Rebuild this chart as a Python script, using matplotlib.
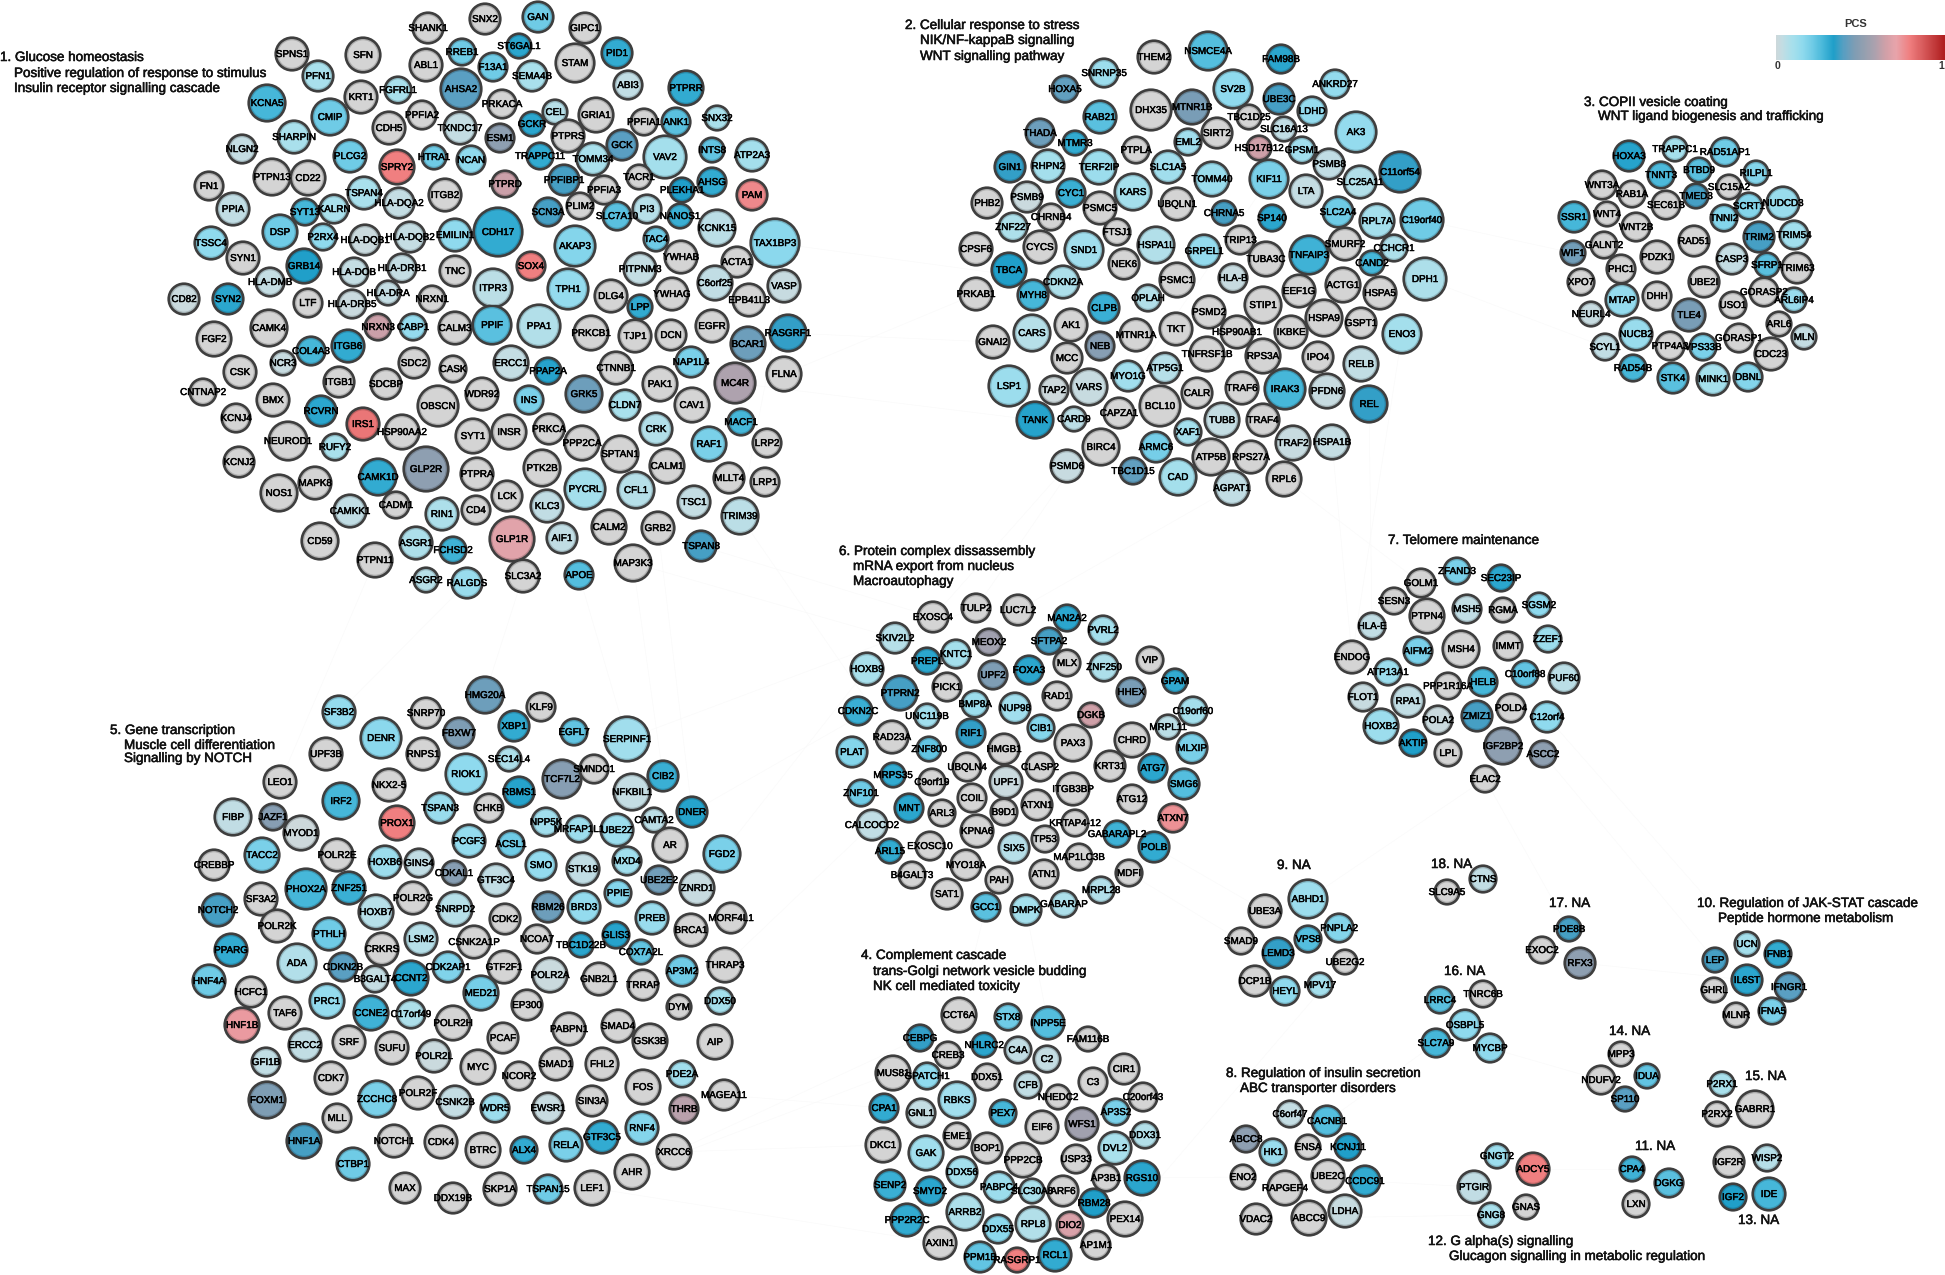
import numpy as np
import matplotlib
matplotlib.use("Agg")
import matplotlib.pyplot as plt
from matplotlib.colors import LinearSegmentedColormap, to_rgb
from matplotlib.patches import Circle
import matplotlib.patheffects as pe

plt.rcParams['font.family'] = ['Liberation Sans', 'DejaVu Sans']

# nodes of each module: gene, x, y, radius, PCS (pixels of the 1945x1275 image)
cluster1 = [
    ("SHANK1",428,28,16,0),("SNX2",485,19,16,0),("SPNS1",292,54,17,0),("SFN",363,55,18,0),("RREB1",462,52,14,.24),
    ("ABL1",426,65,17,0),("PFN1",318,76,16,.12),("F13A1",493,67,15,.24),("AHSA2",461,89,21,.42),("FGFRL1",398,90,14,.12),
    ("KRT1",361,97,17,0),("KCNA5",267,103,19,.30),("PPFIA2",422,115,15,0),("CMIP",330,117,19,.24),("CDH5",389,128,17,0),
    ("TXNDC17",460,128,17,.06),("SHARPIN",294,137,17,.12),("NLGN2",242,149,15,.06),("PLCG2",350,156,17,.24),("HTRA1",434,157,13,.24),
    ("NCAN",471,160,15,.18),("SPRY2",397,167,18,.80),("PTPN13",272,177,19,0),("CD22",308,178,18,0),("FN1",209,186,15,0),
    ("TSPAN4",364,193,17,.12),("ITGB2",445,195,17,0),("HLA-DQA2",399,203,16,.06),("SYT13",305,212,14,.30),("KALRN",334,209,15,.12),
    ("PPIA",233,209,17,.07),("DSP",280,232,18,.24),("EMILIN1",455,235,17,.18),("P2RX4",323,237,14,.18),("HLA-DQB1",365,240,16,.04),
    ("HLA-DQB2",410,237,16,.06),("TSSC4",211,243,17,.18),("SYN1",243,258,17,0),("GRB14",304,266,18,.36),("HLA-DRB1",402,268,15,.06),
    ("HLA-DOB",354,272,15,.06),("TNC",455,271,16,0),("HLA-DMB",270,282,15,.06),("CD82",184,299,16,.04),("SYN2",228,299,16,.34),
    ("LTF",308,303,15,0),("HLA-DRB5",352,304,15,.04),("HLA-DRA",388,293,13,.06),("NRXN1",432,299,14,0),
    ("GAN",538,17,16,.24),("GIPC1",585,28,16,0),("ST6GAL1",519,46,13,.34),("PID1",617,53,16,.33),("STAM",575,63,20,0),
    ("SEMA4B",532,76,16,.12),("ABI3",628,85,15,.07),("PTPRR",686,88,18,.33),("PRKACA",502,104,15,0),("CEL",555,112,13,.09),
    ("GRIA1",596,115,18,0),("SNX32",717,118,13,.12),("PPFIA1",644,122,14,0),("ANK1",676,122,15,.27),("GCKR",532,124,13,.34),
    ("ESM1",500,138,15,.52),("PTPRS",568,136,17,0),("GCK",622,145,16,.42),("INTS8",712,150,13,.26),("ATP2A3",752,155,17,.13),
    ("TRAPPC11",540,156,14,.33),("VAV2",665,157,22,.13),("TOMM34",593,159,17,.12),("PTPRD",505,184,14,.65),("TACR1",639,177,13,0),
    ("PPFIBP1",564,180,16,.40),("AHSG",712,182,15,.33),("PLEKHA1",682,190,13,.36),("PPFIA3",604,190,15,0),("PAM",752,195,16,.78),
    ("SCN3A",548,212,15,.40),("PLIM2",580,206,14,0),("SLC7A10",617,216,15,.27),("PI3",647,209,15,.09),("NANOS1",680,216,13,.32),
    ("CDH17",498,232,25,.33),("KCNK15",717,228,19,.08),("TAX1BP3",775,243,25,.19),("TAC4",656,239,13,.24),("AKAP3",575,246,21,.20),
    ("SOX4",531,266,15,.80),("YWHAB",681,257,17,0),("ACTA1",737,262,16,0),("PITPNM3",640,269,17,.06),("ITPR3",493,288,20,.08),
    ("TPH1",568,289,21,.17),("C6orf25",715,283,18,.07),("VASP",784,286,17,.05),("DLG4",611,296,17,0),("YWHAG",672,294,17,0),
    ("EPB41L3",749,300,17,0),("LPP",640,307,13,.33),
    ("CAMK4",269,328,19,0),("NRXN3",378,327,14,.65),("CABP1",413,327,14,.17),("CALM3",455,328,17,0),("PPIF",492,325,20,.27),
    ("FGF2",214,339,18,0),("COL4A3",311,351,15,.30),("ITGB6",348,346,17,.33),("SDC2",414,363,16,0),("NCR3",283,363,13,.05),
    ("CSK",240,372,17,0),("CASK",453,369,14,0),("CNTNAP2",203,392,14,0),("ITGB1",339,382,16,0),("SDCBP",386,384,16,0),
    ("WDR92",482,394,17,0),("BMX",273,400,17,0),("OBSCN",438,406,21,0),("RCVRN",321,411,16,.34),("KCNJ4",236,418,15,0),
    ("IRS1",363,424,17,.82),("HSP90AA2",402,432,18,0),("SYT1",473,436,18,0),("NEUROD1",288,441,20,0),("RUFY2",335,447,14,.12),
    ("KCNJ2",239,462,16,0),("GLP2R",426,469,23,.52),("CAMK1D",378,477,19,.33),("PTPRA",477,474,17,0),("MAPK8",315,483,17,0),
    ("NOS1",279,493,19,0),("CADM1",396,505,14,0),("CAMKK1",350,511,17,.07),("RIN1",442,514,17,.11),("CD4",476,510,15,0),
    ("CD59",320,541,19,0),("ASGR1",416,543,17,.11),("PTPN11",375,560,18,0),("FCHSD2",453,550,14,.31),("ASGR2",426,580,13,.09),
    ("RALGDS",467,583,16,.16),
    ("PPA1",539,326,22,.10),("PRKCB1",591,333,18,0),("TJP1",635,336,17,0),("DCN",671,335,16,0),("EGFR",712,326,17,0),
    ("RASGRF1",788,333,19,.38),("BCAR1",748,344,18,.45),("ERCC1",511,363,18,.06),("PPAP2A",548,371,14,.35),("CTNNB1",616,368,17,0),
    ("NAP1L4",691,362,16,.22),("FLNA",784,374,18,0),("MC4R",735,383,21,.60),("PAK1",660,384,18,0),("GRK5",584,394,19,.45),
    ("CLDN7",625,405,16,.12),("INS",529,400,15,.22),("CAV1",692,405,18,0),("MACF1",741,422,14,.30),("CRK",656,429,17,.10),
    ("INSR",509,432,18,0),("PRKCA",549,429,16,0),("PPP2CA",582,443,18,0),("LRP2",767,443,15,0),("RAF1",709,444,18,.22),
    ("SPTAN1",620,454,19,0),("CALM1",667,466,18,0),("PTK2B",542,468,19,0),("MLLT4",729,478,16,0),("LRP1",765,482,15,0),
    ("PYCRL",585,489,21,.13),("CFL1",636,490,19,.09),("LCK",507,496,16,0),("TSC1",694,502,17,.06),("KLC3",547,506,17,.07),
    ("TRIM39",740,516,19,.08),("CALM2",609,527,18,0),("GRB2",658,528,17,0),("GLP1R",512,539,23,.70),("AIF1",562,538,16,.07),
    ("TSPAN8",701,546,16,.40),("MAP3K3",633,563,19,0),("APOE",579,575,15,.28),("SLC3A2",523,576,17,0),
]
cluster2 = [
    ("THEM2",1154,57,17,0),("NSMCE4A",1208,51,20,.28),("FAM98B",1281,59,15,.34),("SNRNP35",1104,73,15,.15),("HOXA5",1065,89,14,.43),
    ("SV2B",1233,89,20,.18),("ANKRD27",1335,84,15,.17),("UBE3C",1279,99,16,.40),("DHX35",1151,110,21,0),("MTNR1B",1192,107,18,.47),
    ("RAB21",1100,117,17,.27),("LDHD",1312,111,15,.17),("TBC1D25",1249,117,13,0),("SLC16A13",1284,129,13,.07),("AK3",1356,132,21,.17),
    ("THADA",1040,133,15,.45),("SIRT2",1217,133,16,0),("MTMR3",1075,143,13,.33),("EML2",1188,142,14,.14),("HSD17B12",1259,148,13,.66),
    ("PTPLA",1136,150,14,0),("GPSM1",1302,150,14,.14),("GIN1",1010,167,16,.38),("RHPN2",1048,166,17,.13),("TERF2IP",1099,167,18,.15),
    ("SLC1A5",1168,167,17,.14),("PSMB8",1329,164,16,.07),("C11orf54",1400,172,21,.38),("KIF11",1269,179,20,.22),("TOMM40",1212,179,18,.16),
    ("SLC25A11",1360,182,17,.10),("LTA",1306,191,17,.06),("KARS",1133,192,19,.13),("PSMB9",1027,197,16,.04),("CYC1",1071,193,15,.32),
    ("UBQLN1",1177,204,17,0),("PSMC5",1100,208,17,0),("CHRNA5",1224,213,13,.40),("SP140",1272,218,14,.34),("SLC2A4",1338,212,16,.24),
    ("RPL7A",1377,221,18,.13),("C19orf40",1422,220,22,.24),("PHB2",987,203,16,0),("CHRNB4",1051,217,14,0),("ZNF227",1013,227,15,.11),
    ("FTSJ1",1117,232,14,0),("TRIP13",1240,240,15,0),("SMURF2",1345,244,17,0),("CCHCR1",1394,248,14,.11),("HSPA1L",1156,245,19,.10),
    ("CYCS",1040,247,17,0),("SND1",1084,250,20,.14),("GRPEL1",1204,251,17,.17),("TUBA3C",1266,259,18,0),("TNFAIP3",1309,255,20,.31),
    ("CPSF6",976,249,17,0),("NEK6",1124,264,16,0),("CAND2",1372,263,13,.30),("TBCA",1009,270,18,.36),("DPH1",1425,279,22,.11),
    ("HLA-B",1233,278,15,.05),("PSMC1",1177,280,18,0),("CDKN2A",1063,282,17,.11),("ACTG1",1343,285,18,0),("HSPA5",1380,293,17,0),
    ("EEF1G",1299,291,17,0),("MYH8",1033,295,16,.30),("PRKAB1",976,294,17,0),("OPLAH",1148,298,14,.10),("STIP1",1263,305,19,0),
    ("CLPB",1104,308,16,.32),("PSMD2",1209,312,17,0),("GNAI2",993,342,17,0),("HSPA9",1324,318,19,0),("GSPT1",1361,323,16,0),
    ("ENO3",1402,334,20,.13),("AK1",1071,325,17,0),("TKT",1176,329,17,0),("CARS",1032,333,19,.09),("HSP90AB1",1237,332,17,0),
    ("IKBKE",1291,332,17,0),("MTNR1A",1136,335,17,0),("NEB",1100,346,15,.50),("TNFRSF1B",1207,354,18,0),("RPS3A",1263,356,18,0),
    ("MCC",1067,358,16,0),("IPO4",1318,357,16,0),("RELB",1361,364,18,.07),("ATP5G1",1165,368,16,.09),("MYO1G",1128,376,16,.14),
    ("LSP1",1009,386,21,.15),("VARS",1089,387,19,.05),("TRAF6",1242,388,17,0),("IRAK3",1285,389,21,.30),("PFDN6",1327,391,18,.05),
    ("CALR",1197,393,16,0),("TAP2",1054,390,15,.03),("REL",1369,404,19,.38),("BCL10",1160,406,21,0),("TANK",1035,420,19,.35),
    ("CARD9",1074,419,13,.08),("CAPZA1",1119,413,16,0),("TUBB",1222,420,18,.06),("TRAF4",1263,420,17,0),("XAF1",1188,432,14,.13),
    ("HSPA1B",1332,442,18,.06),("TRAF2",1293,443,18,.05),("BIRC4",1101,447,19,0),("ARMC6",1156,447,16,.23),("ATP5B",1211,457,19,0),
    ("RPS27A",1251,457,17,0),("PSMD6",1067,466,17,.05),("TBC1D15",1133,471,14,.43),("CAD",1178,477,19,.13),("RPL6",1284,479,18,0),
    ("AGPAT1",1232,488,18,.07),
]
cluster3 = [
    ("TRAPPC1",1675,149,13,.13),("RAD51AP1",1725,152,15,.24),("HOXA3",1629,156,16,.35),("BTBD9",1699,170,13,.27),("RILPL1",1756,173,13,.20),
    ("TNNT3",1661,175,14,.29),("SLC15A2",1729,187,13,0),("WNT3A",1602,185,15,0),("RAB1A",1632,194,14,0),("TMED3",1696,196,13,.40),
    ("NUDCD3",1783,203,17,.16),("SEC61B",1666,205,15,0),("SCRT1",1749,206,14,.20),("WNT4",1607,214,13,0),("TNNI2",1724,218,14,.20),
    ("SSR1",1574,217,16,.30),("WNT2B",1636,227,15,0),("TRIM54",1794,235,15,.14),("TRIM2",1759,237,16,.40),("RAD51",1694,241,16,0),
    ("GALNT2",1604,245,14,0),("WIF1",1573,253,13,.46),("PDZK1",1657,257,17,0),("CASP3",1732,259,16,.06),("SFRP1",1767,265,13,.27),
    ("TRIM63",1797,268,16,0),("PHC1",1621,269,15,0),("XPO7",1581,282,14,0),("UBE2I",1704,282,16,0),("GORASP2",1764,292,15,0),
    ("DHH",1657,296,15,0),("MTAP",1622,300,17,.17),("ARL6IP4",1794,300,13,.16),("USO1",1733,305,14,0),("NEURL4",1591,314,13,.05),
    ("TLE4",1689,315,17,.47),("ARL6",1779,324,13,0),("NUCB2",1636,334,17,.16),("MLN",1804,337,13,.06),("GORASP1",1739,338,15,0),
    ("PTP4A3",1670,346,15,0),("VPS33B",1703,347,14,.22),("SCYL1",1605,347,14,.07),("CDC23",1771,354,17,0),("RAD54B",1633,368,14,.30),
    ("STK4",1673,378,16,.27),("MINK1",1713,379,17,.13),("DBNL",1748,377,15,.20),
]
cluster4 = [
    ("CCT6A",959,1015,18,0),("STX8",1008,1017,14,.24),("INPP5E",1048,1023,17,.28),("CEBPG",920,1038,14,.38),("FAM116B",1088,1039,13,0),
    ("NHLRC2",984,1045,13,.34),("C4A",1018,1050,14,.07),("CREB3",948,1055,14,0),("C2",1047,1059,14,.06),("CIR1",1124,1069,16,0),
    ("MUS81",893,1073,18,0),("GPATCH1",927,1076,14,.18),("DDX51",987,1077,14,0),("CFB",1028,1085,14,.07),("C3",1093,1082,15,0),
    ("NHEDC2",1058,1097,13,0),("C20orf43",1143,1097,15,0),("RBKS",957,1100,19,.14),("CPA1",884,1108,15,.33),("PEX7",1003,1113,14,.30),
    ("GNL1",921,1113,15,.06),("AP3S2",1116,1112,14,.22),("WFS1",1082,1124,17,.57),("EIF6",1042,1127,17,0),("DDX31",1145,1135,14,.10),
    ("EME1",957,1136,14,0),("DKC1",883,1145,18,0),("BOP1",987,1148,16,0),("DVL2",1115,1148,17,.12),("GAK",926,1153,18,.14),
    ("PPP2CB",1023,1160,18,0),("USP33",1076,1159,15,0),("DDX56",962,1172,16,.13),("AP3B1",1106,1178,14,0),("RGS10",1142,1178,18,.34),
    ("SENP2",890,1185,16,.32),("PABPC4",999,1187,16,.15),("SMYD2",930,1191,15,.34),("SLC30A8",1032,1191,13,.12),("ARF6",1063,1191,16,0),
    ("RBM28",1094,1203,15,.36),("ARRB2",965,1212,19,.11),("PEX14",1125,1219,18,0),("PPP2R2C",907,1220,17,.33),("RPL8",1033,1224,18,.10),
    ("DIO2",1070,1225,14,.68),("DDX55",998,1229,15,.19),("AXIN1",940,1243,17,0),("AP1M1",1096,1245,15,0),("PPM1B",980,1257,16,.26),
    ("RCL1",1055,1255,17,.33),("RASGRP1",1017,1260,13,.80),
]
cluster5 = [
    ("HMG20A",485,695,19,.45),("KLF9",541,707,15,0),("SF3B2",339,712,17,.17),("SNRP70",426,713,16,0),("XBP1",514,726,16,.33),
    ("FBXW7",459,733,16,.48),("DENR",381,738,21,.19),("RNPS1",423,754,17,0),("UPF3B",326,754,17,0),("SEC14L4",509,759,13,.11),
    ("RIOK1",466,774,21,.18),("LEO1",280,782,17,0),("NKX2-5",389,785,17,0),("RBMS1",519,792,16,.35),("TCF7L2",562,779,20,.50),
    ("IRF2",341,801,19,.30),("CHKB",489,808,15,0),("TSPAN3",440,808,16,.16),("JAZF1",273,817,14,.50),("FIBP",233,817,19,.07),
    ("PROX1",397,823,18,.80),("NPP5K",546,822,15,.14),("MYOD1",301,833,18,.03),("PCGF3",469,841,17,.17),("ACSL1",511,844,14,.24),
    ("TACC2",262,855,18,.22),("POLR2E",337,855,17,0),("HOXB6",385,862,17,.15),("GINS4",419,863,15,.07),("CREBBP",214,865,16,0),
    ("SMO",541,865,16,.17),("CDKAL1",454,873,13,.50),("GTF3C4",496,880,17,.07),("PHOX2A",306,889,21,.30),("ZNF251",349,888,17,.32),
    ("SF3A2",261,899,17,0),("POLR2G",413,898,17,0),("HOXB7",376,912,18,.09),("SNRPD2",455,909,18,.09),("RBM26",548,907,16,.45),
    ("CDK2",505,919,16,0),("NOTCH2",218,910,17,.40),("POLR2K",277,926,17,0),("LSM2",421,939,17,.09),("PTHLH",329,934,17,.24),
    ("NCOA7",537,939,15,0),("CSNK2A1P",474,942,17,0),("CRKRS",382,949,17,0),("PPARG",231,950,17,.33),("ADA",297,963,20,.10),
    ("CDKN2B",343,967,15,.42),("CDK2AP1",448,967,16,.21),("GTF2F1",504,967,17,0),("POLR2A",550,975,18,.04),("HNF4A",209,981,17,.24),
    ("HCFC1",251,992,16,0),("MED21",481,993,18,.23),("PRC1",327,1001,18,.17),("EP300",527,1005,16,0),("TAF6",285,1013,17,0),
    ("CCNE2",371,1013,18,.31),("C17orf49",411,1014,15,.11),("POLR2H",453,1023,18,0),("HNF1B",242,1025,18,.74),("PCAF",503,1038,16,0),
    ("SRF",349,1042,17,0),("ERCC2",305,1045,17,.07),("SUFU",392,1048,17,0),("POLR2L",434,1056,17,.04),("GFI1B",266,1062,15,.07),
    ("SMAD1",556,1064,17,0),("MYC",478,1067,18,0),("CDK7",331,1078,17,0),("NCOR2",519,1076,15,0),("ZCCHC8",377,1099,19,.22),
    ("POLR2F",418,1093,17,0),("CSNK2B",455,1102,17,.06),("WDR5",495,1108,15,.15),("FOXM1",267,1100,19,.48),("MLL",337,1118,15,0),
    ("HNF1A",304,1141,18,.40),("CDK4",441,1142,17,0),("NOTCH1",394,1141,17,0),("BTRC",483,1150,18,0),("ALX4",524,1150,14,.33),
    ("CTBP1",353,1164,17,.24),("MAX",405,1188,16,0),("SKP1A",500,1189,17,0),("DDX19B",453,1198,16,0),("CCNT2",411,978,18,.34),
    ("B3GALT4",375,979,14,.06),("EGFL7",574,732,14,.26),("SERPINF1",627,739,23,.14),("SMNDC1",594,769,15,0),("CIB2",663,776,16,.32),
    ("NFKBIL1",632,792,19,.06),("DNER",692,812,16,.35),("CAMTA2",654,820,13,.08),("MRFAP1L1",579,829,14,.15),("UBE2Z",617,830,17,.15),
    ("AR",670,845,18,0),("FGD2",722,854,19,.22),("MXD4",627,861,15,.14),("STK19",583,869,17,.07),("UBE2E2",659,880,15,.46),
    ("ZNRD1",697,888,18,.05),("PPIE",618,893,14,.20),("BRD3",584,907,17,.17),("MORF4L1",731,918,16,0),("PREB",652,918,17,.16),
    ("BRCA1",691,930,17,0),("GLIS3",616,935,14,.35),("TBC1D22B",581,945,13,.34),("COX7A2L",641,952,13,.26),("AP3M2",682,971,16,.24),
    ("THRAP3",725,965,18,0),("GNB2L1",599,979,17,0),("TRRAP",643,985,16,0),("DYM",679,1007,13,0),("DDX50",720,1001,14,.13),
    ("PABPN1",569,1029,17,0),("SMAD4",618,1026,17,0),("GSK3B",650,1041,18,0),("AIP",715,1042,18,0),("FHL2",602,1064,17,0),
    ("PDE2A",682,1074,14,.14),("FOS",643,1087,18,0),("MAGEA11",724,1095,16,0),("EWSR1",548,1108,16,.05),("SIN3A",592,1101,16,0),
    ("THRB",684,1109,15,.62),("RNF4",642,1128,17,.20),("RELA",566,1145,17,.22),("GTF3C5",602,1137,17,.33),("XRCC6",674,1152,18,0),
    ("AHR",632,1172,18,0),("TSPAN15",548,1189,15,.24),("LEF1",592,1188,18,0),
]
cluster6 = [
    ("TULP2",976,608,15,0),("LUC7L2",1018,610,16,0),("EXOSC4",933,617,16,0),("MAN2A2",1067,618,14,.34),("PVRL2",1103,630,15,.13),
    ("SKIV2L2",895,638,16,.09),("MEOX2",989,642,14,.57),("SFTPA2",1049,641,14,.40),("VIP",1150,660,14,0),("PREPL",927,661,14,.34),
    ("KNTC1",956,654,15,.13),("MLX",1067,663,14,0),("ZNF250",1104,667,15,.11),("HOXB9",867,669,17,.12),("FOXA3",1029,670,15,.34),
    ("UPF2",993,675,15,.48),("GPAM",1175,681,13,.33),("PTPRN2",900,693,18,.40),("PICK1",947,687,15,0),("HHEX",1131,692,15,.47),
    ("RAD1",1057,696,15,0),("BMP8A",975,704,14,.15),("NUP98",1015,708,16,.14),("C19orf60",1193,711,15,.13),("DGKB",1091,715,13,.66),
    ("CDKN2C",858,711,15,.32),("UNC119B",927,716,13,.14),("MRPL11",1168,727,13,.08),("RAD23A",892,737,17,0),("RIF1",971,733,15,.38),
    ("CIB1",1041,728,14,.20),("PAX3",1073,743,19,0),("CHRD",1132,740,18,0),("MLXIP",1192,748,16,.22),("HMGB1",1004,749,16,0),
    ("ZNF800",929,749,13,.26),("PLAT",852,752,16,.20),("KRT31",1110,766,16,0),("ATG7",1153,768,15,.34),("UBQLN4",967,767,15,0),
    ("CLASP2",1040,767,15,0),("MRPS35",893,775,13,.33),("UPF1",1006,782,17,.04),("C9orf19",932,782,14,0),("SMG6",1184,784,16,.28),
    ("ITGB3BP",1073,789,17,0),("ZNF101",861,793,14,.24),("COIL",972,798,15,0),("ATG12",1132,799,15,0),("ATXN1",1037,805,16,0),
    ("MNT",909,808,15,.34),("ARL3",942,813,14,0),("B9D1",1004,812,14,0),("ATXN7",1173,818,15,.76),("KRTAP4-12",1075,823,14,0),
    ("CALCOCO2",872,825,16,.07),("KPNA6",977,831,17,0),("TP53",1045,839,14,1),("GABARAPL2",1117,834,14,.31),("POLB",1154,847,16,.33),
    ("SIX5",1014,848,16,.09),("EXOSC10",930,846,15,0),("ARL15",890,851,13,.33),("MAP1LC3B",1079,857,14,0),("MYO18A",966,865,16,0),
    ("ATN1",1044,874,15,0),("MDFI",1129,873,14,0),("B4GALT3",912,875,14,0),("PAH",999,880,14,0),("MRPL28",1101,890,14,.10),
    ("SAT1",947,894,16,0),("GABARAP",1064,904,14,.11),("GCC1",986,907,15,.27),("DMPK",1026,910,16,.13),
]
cluster7 = [
    ("ZFAND3",1457,571,14,.22),("SEC23IP",1501,578,14,.34),("GOLM1",1421,583,15,0),("SESN3",1394,601,14,0),("MSH5",1467,609,15,.07),
    ("RGMA",1503,610,13,0),("SGSM2",1539,605,13,.18),("PTPN4",1427,616,18,0),("HLA-E",1372,626,14,.07),("ZZEF1",1548,639,14,.15),
    ("MSH4",1461,649,19,0),("IMMT",1508,646,15,0),("AIFM2",1418,651,15,.22),("ENDOG",1352,657,17,0),("ATP13A1",1388,672,14,.15),
    ("C10orf88",1525,674,14,.26),("PUF60",1564,678,16,.08),("HELB",1483,682,15,.30),("PPP1R16A",1448,686,14,0),("FLOT1",1363,697,15,.05),
    ("RPA1",1408,701,17,.07),("POLD4",1511,708,15,0),("ZMIZ1",1477,716,16,.40),("POLA2",1438,720,15,.04),("C12orf4",1547,717,16,.18),
    ("HOXB2",1381,726,18,.15),("AKTIP",1413,743,14,.36),("IGF2BP2",1503,746,19,.52),("ASCC2",1543,754,14,.52),("LPL",1448,753,14,0),
    ("ELAC2",1485,779,14,0),
]
cluster8 = [
    ("C6orf47",1290,1114,14,.06),("CACNB1",1327,1121,16,.28),("ABCC8",1246,1139,14,.52),("KCNJ11",1348,1147,14,.36),("ENSA",1308,1147,13,0),
    ("HK1",1273,1152,14,.16),("ENO2",1243,1177,13,0),("UBE2C",1328,1176,17,0),("CCDC91",1365,1181,16,.33),("RAPGEF4",1285,1188,18,0),
    ("LDHA",1345,1211,17,.05),("VDAC2",1256,1219,16,0),("ABCC9",1309,1218,18,0),
]
cluster9 = [
    ("ABHD1",1308,899,20,.15),("UBE3A",1265,911,17,0),("PNPLA2",1339,928,15,.20),("SMAD9",1241,941,14,0),("VPS8",1308,939,14,.28),
    ("LEMD3",1278,953,16,.38),("UBE2G2",1345,962,13,0),("DCP1B",1255,981,16,0),("HEYL",1285,991,15,.18),("MPV17",1320,985,13,.13),
]
cluster10 = [
    ("UCN",1747,944,13,.13),("IFNB1",1778,954,14,.33),("LEP",1715,960,13,.40),("IL6ST",1747,980,16,.34),("IFNGR1",1789,987,15,.42),
    ("GHRL",1714,990,13,0),("IFNA5",1772,1011,14,.22),("MLNR",1736,1015,13,0),
]
cluster11 = [("CPA4",1632,1169,13,.31),("DGKG",1669,1183,15,.27),("LXN",1636,1204,14,0)]
cluster12 = [("GNGT2",1497,1156,13,.15),("ADCY5",1533,1169,17,.80),("PTGIR",1474,1187,17,.07),("GNAS",1526,1207,13,0),("GNG8",1491,1215,13,.12)]
cluster13 = [("IGF2R",1729,1162,16,0),("WISP2",1767,1158,14,.09),("IGF2",1733,1197,14,.36),("IDE",1769,1194,17,.30)]
cluster14 = [("MPP3",1621,1054,13,0),("IDUA",1647,1076,13,.26),("NDUFV2",1601,1080,15,0),("SP110",1625,1099,13,.42)]
cluster15 = [("P2RX1",1722,1084,13,.12),("GABRR1",1755,1109,19,0),("P2RX2",1717,1114,13,0)]
cluster16 = [("LRRC4",1440,1000,14,.27),("TNRC6B",1483,994,14,0),("OSBPL5",1465,1025,16,.18),("SLC7A9",1436,1043,15,.30),("MYCBP",1490,1048,15,.18)]
cluster17 = [("PDE8B",1569,929,13,.40),("EXOC2",1542,950,14,0),("RFX3",1580,963,16,.52)]
cluster18 = [("CTNS",1483,879,14,.07),("SLC9A5",1447,892,13,0)]

clusters = [cluster1, cluster2, cluster3, cluster4, cluster5, cluster6, cluster7, cluster8, cluster9,
            cluster10, cluster11, cluster12, cluster13, cluster14, cluster15, cluster16, cluster17, cluster18]

# a few of the very faint links that run behind the modules
edges = [
    ("VASP","TRIM39"),("TAX1BP3","CDKN2A"),("FLNA","PRKAB1"),("RASGRF1","GNAI2"),("TSPAN8","EXOSC4"),("MAP3K3","SKIV2L2"),
    ("MC4R","TANK"),("TRIM39","RAD23A"),("APOE","SERPINF1"),("SLC3A2","HMG20A"),("RALGDS","SF3B2"),("PTPN11","LEO1"),
    ("MAP3K3","CIB2"),("GRB2","DNER"),("XRCC6","CEBPG"),("AHR","MUS81"),("MAGEA11","CPA1"),("THRAP3","CALCOCO2"),
    ("FGD2","HOXB9"),("DNER","PTPRN2"),("SERPINF1","TULP2"),("KIF11","TULP2"),("AGPAT1","LUC7L2"),("PSMD6","EXOSC4"),
    ("RPL6","GOLM1"),("REL","HLA-E"),("ENO3","ENDOG"),("DPH1","SCYL1"),("C19orf40","WIF1"),("HSPA1B","ENDOG"),
    ("C12orf4","UCN"),("ELAC2","PDE8B"),("ASCC2","LEP"),("ELAC2","ABHD1"),("POLB","UBE3A"),("MDFI","SMAD9"),
    ("RFX3","IL6ST"),("ABCC9","GNG8"),("CCDC91","PTGIR"),("SLC7A9","CACNB1"),("MYCBP","NDUFV2"),("ADCY5","CPA4"),
    ("GCC1","CCT6A"),("DMPK","INPP5E"),("PEX14","UBE2G2"),("RGS10","ENO2"),("LEF1","AXIN1"),("XRCC6","DKC1"),
]

# module captions: text, x, y
titles = [
    ("1. Glucose homeostasis",0,58),("Positive regulation of response to stimulus",14,74),("Insulin receptor signalling cascade",14,89),
    ("2. Cellular response to stress",905,26),("NIK/NF-kappaB signalling",920,41),("WNT signalling pathway",920,57),
    ("3. COPII vesicle coating",1584,103),("WNT ligand biogenesis and trafficking",1598,117),
    ("4. Complement cascade",861,956),("trans-Golgi network vesicle budding",873,972),("NK cell mediated toxicity",873,987),
    ("5. Gene transcription",110,731),("Muscle cell differentiation",124,746),("Signalling by NOTCH",124,759),
    ("6. Protein complex dissassembly",839,552),("mRNA export from nucleus",853,567),("Macroautophagy",853,582),
    ("7. Telomere maintenance",1388,541),
    ("8. Regulation of insulin secretion",1226,1074),("ABC transporter disorders",1240,1089),
    ("9. NA",1277,866),("18. NA",1431,865),("17. NA",1549,904),
    ("10. Regulation of JAK-STAT cascade",1697,904),("Peptide hormone metabolism",1718,919),
    ("16. NA",1444,972),("14. NA",1609,1032),("15. NA",1745,1077),("11. NA",1635,1147),("13. NA",1738,1221),
    ("12. G alpha(s) signalling",1428,1242),("Glucagon signalling in metabolic regulation",1449,1257),
]

pcs_stops = [(0,'#d4d4d4'),(.06,'#c4dde3'),(.12,'#a8e0ec'),(.18,'#8fdaee'),(.24,'#6fcbe6'),(.30,'#45b6d9'),(.36,'#1f9fc9'),
             (.42,'#5a9fc2'),(.48,'#7f9db4'),(.54,'#95a0b0'),(.60,'#aea2ae'),(.66,'#d0a0a8'),(.72,'#e8a4ab'),(.80,'#f07f80'),(1,'#b01f20')]
cmap = LinearSegmentedColormap.from_list("pcs", pcs_stops)

fig = plt.figure(figsize=(19.45, 12.75), dpi=100)
ax = fig.add_axes([0, 0, 1, 1])

where = {row[0]: row[1:3] for cluster in clusters for row in cluster}
for a, b in edges:
    ax.plot([where[a][0], where[b][0]], [where[a][1], where[b][1]], color='#f9f9f9', lw=0.4, zorder=1)

for cluster in clusters:
    for name, x, y, r, pcs in cluster:
        fill = np.array(to_rgb(cmap(pcs)))
        ax.add_patch(Circle((x, y), r - 0.7, fc=fill * 0.82, ec='#3e3e3e', lw=1.9, zorder=2))
        ax.add_patch(Circle((x, y), r - 3.3, fc=fill, ec='none', zorder=3))
        ax.text(x, y, name, fontsize=7.1, color='#000000', ha='center', va='center', zorder=4,
                path_effects=[pe.withStroke(linewidth=0.35, foreground='#000000')])

for text, x, y in titles:
    ax.text(x, y, text, fontsize=9.7, color='#111111', ha='left', va='center', zorder=5,
            path_effects=[pe.withStroke(linewidth=0.4, foreground='#111111')])

# PCS colour key
ramp = np.linspace(0.03, 1, 256).reshape(1, -1)
ax.imshow(ramp, cmap=cmap, vmin=0, vmax=1, extent=(1776, 1945, 60, 35), aspect='auto', zorder=1)
ax.text(1856, 24, "PCS", fontsize=8, fontweight='bold', color='#333333', ha='center', va='center')
ax.text(1778, 66, "0", fontsize=7.5, fontweight='bold', color='#333333', ha='center', va='center')
ax.text(1941, 66, "1", fontsize=7.5, fontweight='bold', color='#333333', ha='center', va='center')

ax.set_xlim(0, 1945)
ax.set_ylim(1275, 0)
ax.axis('off')
fig.savefig("out.png", dpi=100, facecolor='white')
